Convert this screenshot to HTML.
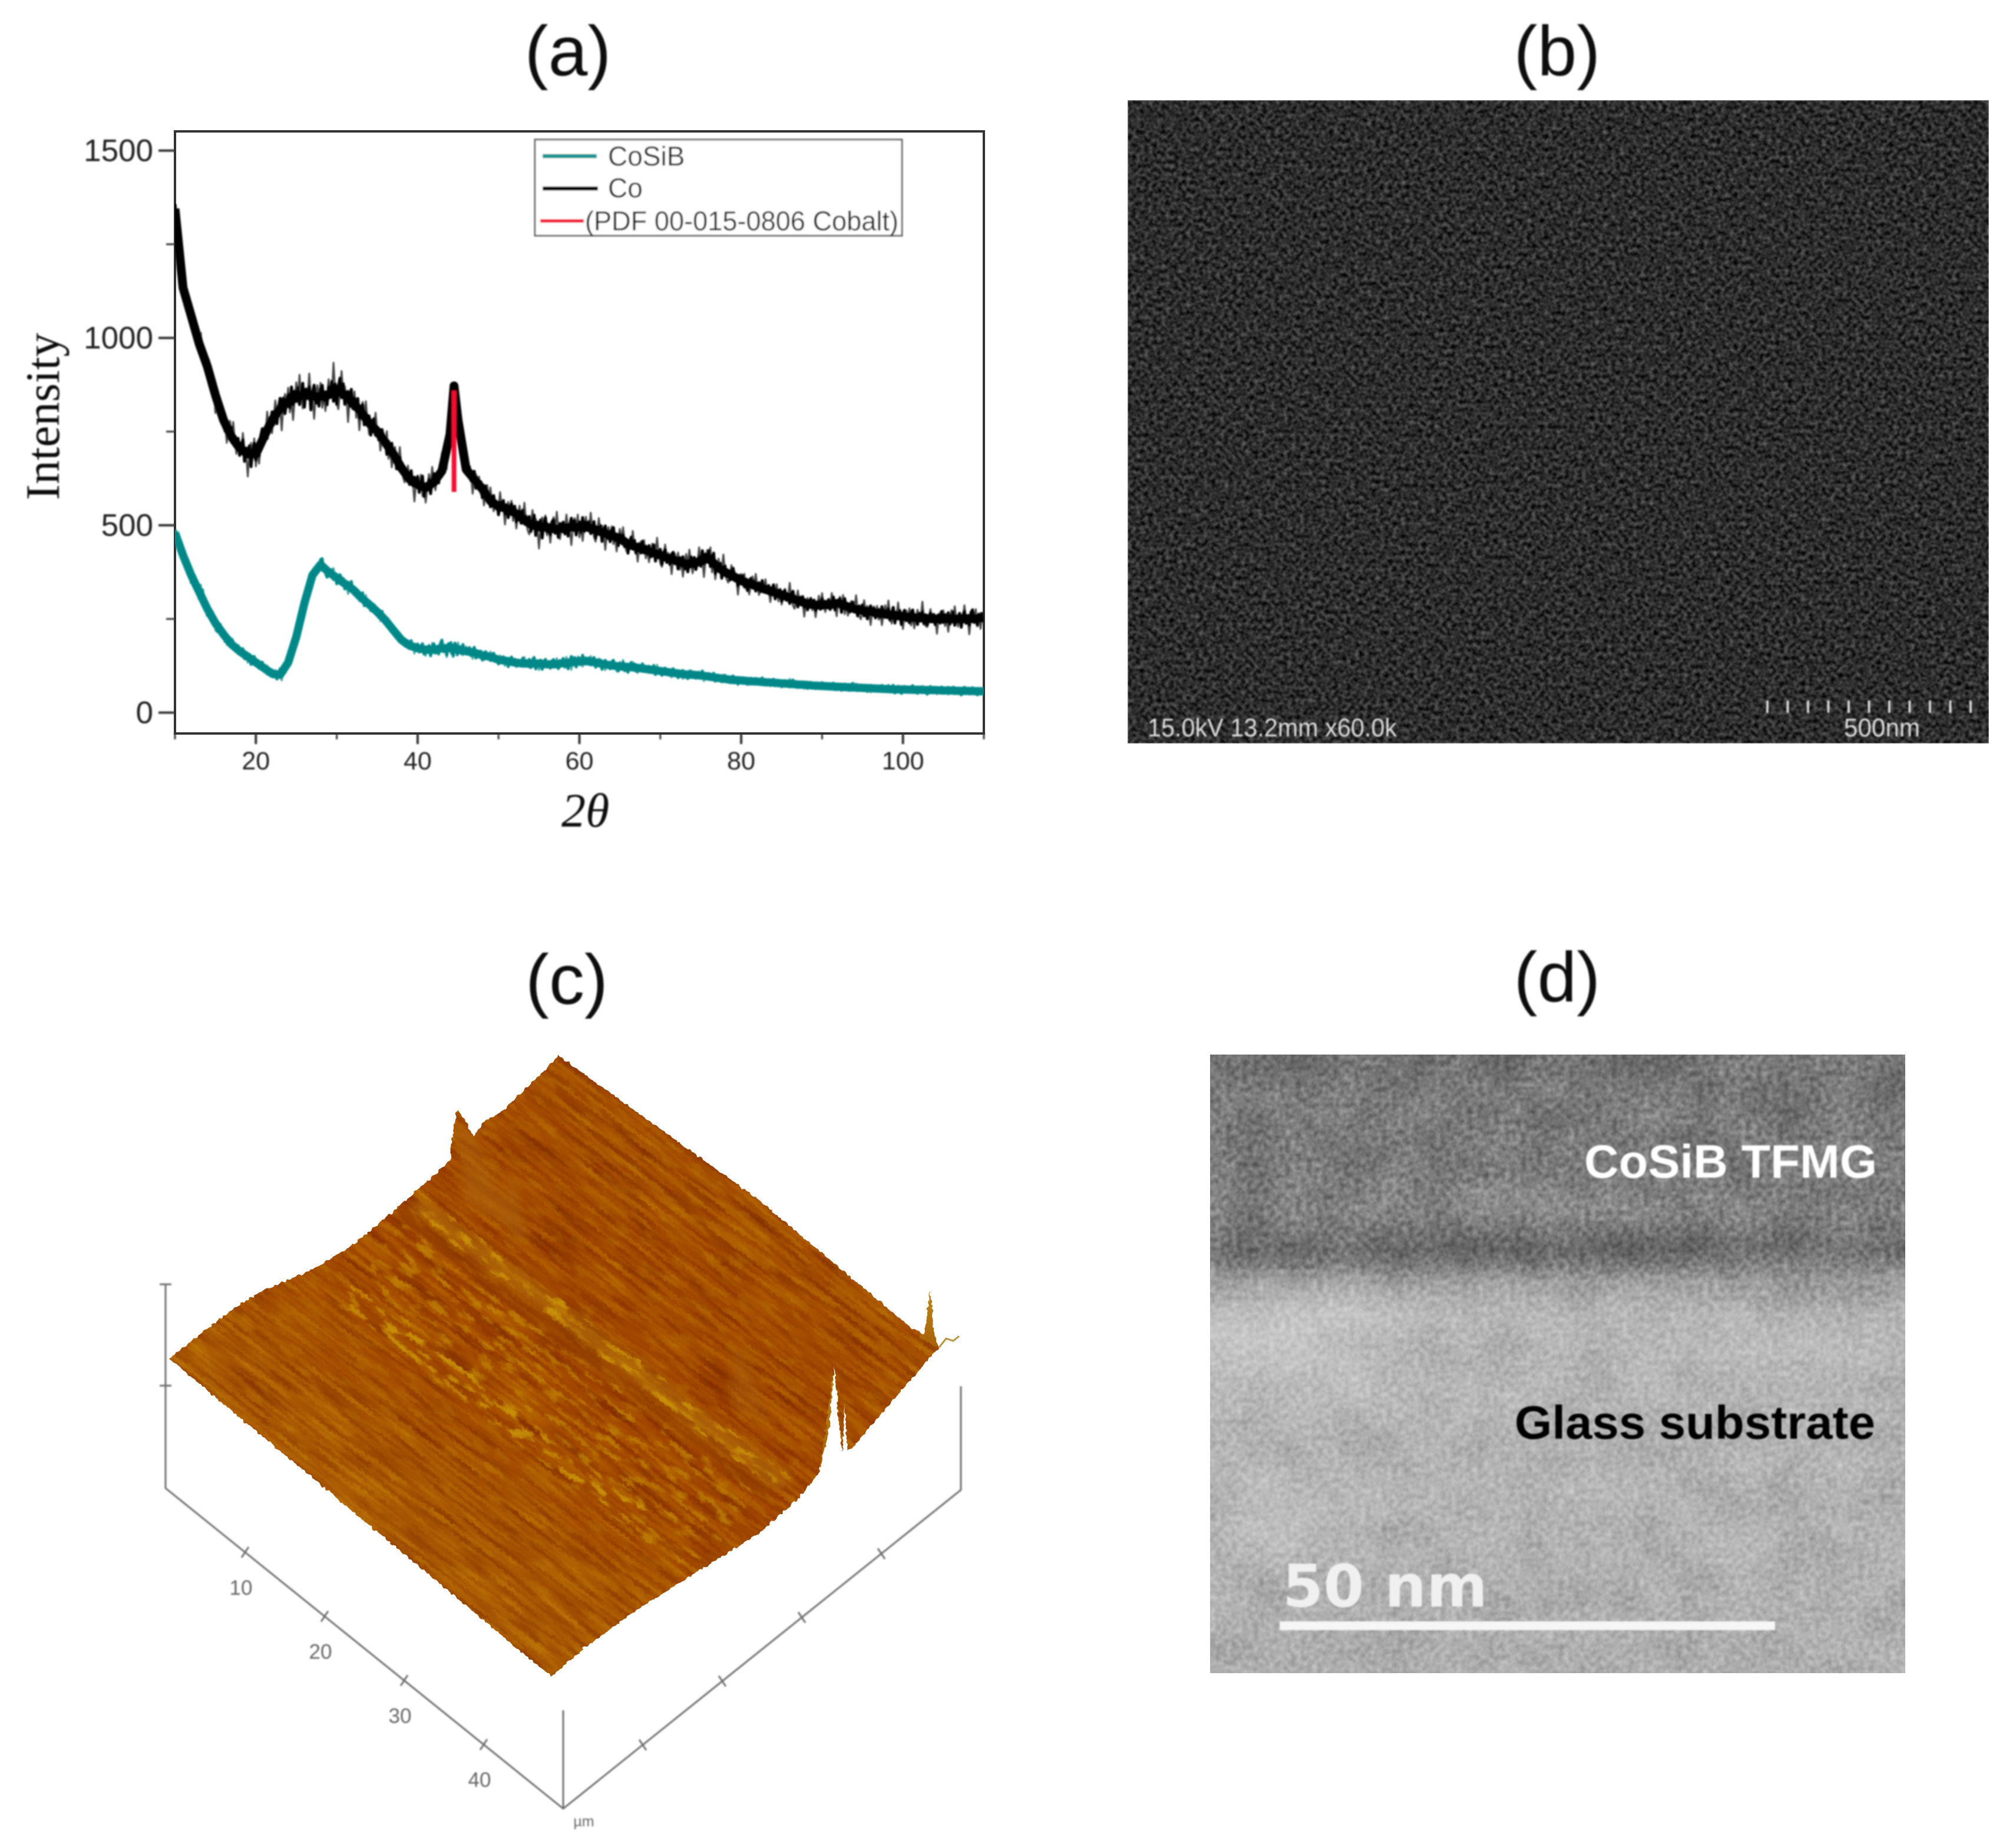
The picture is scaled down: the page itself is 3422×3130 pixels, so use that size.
<!DOCTYPE html>
<html lang="en">
<head>
<meta charset="utf-8">
<title>CoSiB thin film characterisation</title>
<style>
html,body{margin:0;padding:0;background:#fff;width:3422px;height:3130px;overflow:hidden}
svg{display:block}
text{font-family:"Liberation Sans",sans-serif}
</style>
</head>
<body>
<svg id="figure" xmlns="http://www.w3.org/2000/svg" width="3422" height="3130" viewBox="0 0 3422 3130">
<defs>
<filter id="soft" x="-5%" y="-5%" width="110%" height="110%"><feGaussianBlur stdDeviation="1.2"/></filter>
<filter id="softer" x="-30%" y="-30%" width="160%" height="160%"><feGaussianBlur stdDeviation="9"/></filter>
<filter id="veryBlur" x="-50%" y="-50%" width="200%" height="200%"><feGaussianBlur stdDeviation="45"/></filter>
<filter id="semNoise" x="0" y="0" width="100%" height="100%" color-interpolation-filters="sRGB">
<feTurbulence type="fractalNoise" baseFrequency="0.14" numOctaves="2" seed="7"/>
<feColorMatrix type="matrix" values="0.58 0 0 0 -0.115  0.58 0 0 0 -0.115  0.58 0 0 0 -0.115  0 0 0 0 1"/>
<feGaussianBlur stdDeviation="1.1"/>
</filter>
<filter id="temBlobs" x="0" y="0" width="100%" height="100%" color-interpolation-filters="sRGB">
<feTurbulence type="fractalNoise" baseFrequency="0.012" numOctaves="3" seed="11"/>
<feColorMatrix type="matrix" values="1.2 0 0 0 -0.1  1.2 0 0 0 -0.1  1.2 0 0 0 -0.1  0 0 0 0 1"/>
</filter>
<filter id="temGrain" x="0" y="0" width="100%" height="100%" color-interpolation-filters="sRGB">
<feTurbulence type="fractalNoise" baseFrequency="0.11" numOctaves="2" seed="4"/>
<feColorMatrix type="matrix" values="1 0 0 0 0  1 0 0 0 0  1 0 0 0 0  0 0 0 0 1"/>
<feGaussianBlur stdDeviation="1.2"/>
</filter>
<filter id="afmStreaks" x="0" y="0" width="100%" height="100%" color-interpolation-filters="sRGB">
<feTurbulence type="fractalNoise" baseFrequency="0.008 0.11" numOctaves="2" seed="9"/>
<feColorMatrix type="matrix" values="1.4 0 0 0 -0.2  1.4 0 0 0 -0.2  1.4 0 0 0 -0.2  0 0 0 0 1"/>
<feGaussianBlur stdDeviation="1"/>
</filter>
<filter id="afmDots" x="0" y="0" width="100%" height="100%" color-interpolation-filters="sRGB">
<feTurbulence type="fractalNoise" baseFrequency="0.025 0.1" numOctaves="2" seed="21"/>
<feColorMatrix type="matrix" values="0 0 0 0 0.78  0 0 0 0 0.56  0 0 0 0 0.03  6 0 0 0 -3.2"/>
<feGaussianBlur stdDeviation="1.6"/>
</filter>
<filter id="afmEdge" x="-3%" y="-3%" width="106%" height="106%" color-interpolation-filters="sRGB">
<feTurbulence type="fractalNoise" baseFrequency="0.16" numOctaves="1" seed="3" result="warp"/>
<feDisplacementMap in="SourceGraphic" in2="warp" scale="8" xChannelSelector="R" yChannelSelector="G"/>
</filter>
<linearGradient id="afmBase" x1="0" y1="0" x2="0" y2="1">
<stop offset="0" stop-color="#a44e02"/><stop offset="0.3" stop-color="#a04700"/>
<stop offset="0.45" stop-color="#9f4400"/><stop offset="0.62" stop-color="#a24a00"/>
<stop offset="1" stop-color="#aa5a04"/>
</linearGradient>
<linearGradient id="temBase" x1="0" y1="1790" x2="0" y2="2840" gradientUnits="userSpaceOnUse">
<stop offset="0" stop-color="#747474"/><stop offset="0.2" stop-color="#7d7d7d"/>
<stop offset="0.25" stop-color="#858585"/><stop offset="0.285" stop-color="#767676"/>
<stop offset="0.315" stop-color="#6a6a6a"/><stop offset="0.34" stop-color="#7c7c7c"/>
<stop offset="0.365" stop-color="#9c9c9c"/><stop offset="0.42" stop-color="#b6b6b6"/>
<stop offset="1" stop-color="#aeaeae"/>
</linearGradient>
<linearGradient id="spikeGold" x1="0" y1="0" x2="0" y2="1">
<stop offset="0" stop-color="#bb8a1e"/><stop offset="1" stop-color="#a85f06"/>
</linearGradient>
<clipPath id="plotClip"><rect x="297" y="223" width="1373" height="1022"/></clipPath>
<clipPath id="afmClip"><polygon points="287,2306 330,2272 372,2240 405,2215 447,2190 490,2172 540,2150 595,2115 640,2080 694,2032 740,1992 763,1970 768,1930 775,1885 790,1900 803,1930 820,1905 852,1886 880,1860 912,1829 948,1792 1287,2036 1549,2256 1569,2265 1579,2190 1586,2265 1594,2287 1445,2459 1438,2462 1434,2384 1430,2465 1424,2420 1416,2318 1408,2420 1391,2498 1357,2542 1287,2604 1188,2665 1090,2727 991,2798 936,2846"/></clipPath>
<clipPath id="temClip"><rect x="2054" y="1790" width="1180" height="1050"/></clipPath>
<clipPath id="semClip"><rect x="1914" y="170" width="1462" height="1092"/></clipPath>
</defs>

<!-- Panel titles -->
<g filter="url(#soft)" fill="#111" font-size="120" text-anchor="middle">
<text x="964" y="128">(a)</text>
<text x="2643" y="128">(b)</text>
<text x="962" y="1704">(c)</text>
<text x="2643" y="1700">(d)</text>
</g>

<!-- Panel a: XRD chart -->
<g id="xrd-chart"></g>

<!-- Panel b: SEM -->
<g clip-path="url(#semClip)">
<rect x="1914" y="170" width="1462" height="1092" fill="#333" filter="url(#semNoise)"/>
</g>
<g id="sem-overlay" filter="url(#soft)">
<text x="1948" y="1250" font-size="44" fill="#ddd" textLength="423" lengthAdjust="spacingAndGlyphs">15.0kV 13.2mm x60.0k</text>
<text x="3130" y="1250" font-size="44" fill="#ddd" textLength="129" lengthAdjust="spacingAndGlyphs">500nm</text>
</g>

<!-- Panel c: AFM -->
<g filter="url(#afmEdge)">
<g clip-path="url(#afmClip)" style="isolation:isolate">
<rect x="250" y="1780" width="1400" height="1080" fill="#a24a00"/>
<g transform="translate(948,1792) rotate(37.5)">
<rect x="-400" y="-60" width="1400" height="960" fill="url(#afmBase)"/>
<rect x="-400" y="-60" width="1400" height="960" filter="url(#afmStreaks)" style="mix-blend-mode:soft-light" opacity="0.5"/>
<rect x="-40" y="330" width="790" height="30" fill="#b87c10" opacity="0.55" filter="url(#softer)"/>
<rect x="-60" y="366" width="800" height="20" fill="#8f3c00" opacity="0.6" filter="url(#softer)"/>
<rect x="-60" y="326" width="810" height="36" filter="url(#afmDots)"/>
<rect x="-40" y="385" width="760" height="180" filter="url(#afmDots)" opacity="0.55"/>
<rect x="-40" y="520" width="640" height="40" filter="url(#afmDots)"/>
<rect x="-300" y="0" width="1200" height="880" filter="url(#afmDots)" opacity="0.25"/>
</g>
<polygon points="775,1885 803,1930 880,2090 790,2040" fill="#ae620a" opacity="0.6" filter="url(#softer)"/>
<polygon points="870,1970 885,2060 900,2120 850,2070" fill="#ae620a" opacity="0.6" filter="url(#softer)"/>
<polygon points="1250,2270 1310,2420 1240,2380" fill="#ae620a" opacity="0.5" filter="url(#softer)"/>
<polygon points="1416,2318 1430,2465 1391,2498" fill="url(#spikeGold)"/>
<polygon points="1579,2190 1592,2287 1560,2270" fill="url(#spikeGold)"/>
</g>
</g>
<polyline points="1594,2287 1606,2272 1618,2276 1628,2268" fill="none" stroke="#b9923f" stroke-width="3"/>
<g id="afm-axes" filter="url(#soft)" stroke="#6f6f6f" stroke-width="3" fill="none"></g>

<!-- Panel d: TEM -->
<g clip-path="url(#temClip)" style="isolation:isolate">
<rect x="2054" y="1790" width="1180" height="1050" fill="url(#temBase)"/>
<ellipse cx="2180" cy="2270" rx="200" ry="70" fill="#fff" opacity="0.22" filter="url(#veryBlur)"/>
<ellipse cx="2170" cy="2560" rx="120" ry="70" fill="#fff" opacity="0.16" filter="url(#veryBlur)"/>
<rect x="2054" y="1790" width="1180" height="1050" filter="url(#temBlobs)" style="mix-blend-mode:soft-light" opacity="0.28"/>
<rect x="2054" y="1790" width="1180" height="1050" filter="url(#temGrain)" style="mix-blend-mode:overlay" opacity="0.42"/>
</g>
<g filter="url(#soft)">
<text x="2689" y="1999" font-size="80" font-weight="700" fill="#fff" textLength="497" lengthAdjust="spacingAndGlyphs">CoSiB TFMG</text>
<text x="2571" y="2442" font-size="80" font-weight="700" fill="#050505" textLength="612" lengthAdjust="spacingAndGlyphs">Glass substrate</text>
<text x="2177" y="2727" font-size="100" font-weight="700" fill="#f0f0f0" style="font-family:'DejaVu Sans',sans-serif" textLength="348" lengthAdjust="spacingAndGlyphs">50 nm</text>
<rect x="2172" y="2752" width="841" height="15" fill="#f6f6f6"/>
</g>
</svg>

<script>
const twoTheta = [
10,11,12,13,14,15,16,17,18,19,
20,21,22,23,24,25,26,27,28,29,
30,31,32,33,34,35,36,37,38,39,
40,41,42,43,44,44.5,45,46,47,48,49,
50,51,52,53,54,55,56,57,58,59,
60,61,62,63,64,65,66,67,68,69,
70,71,72,73,74,75,76,77,78,79,
80,81,82,83,84,85,86,87,88,89,
90,91,92,93,94,95,96,97,98,99,
100,101,102,103,104,105,106,107,108,109,110];
const coIntensity = [
1345,1134,1059,984,924,848,781,736,706,690,
690,736,781,811,830,841,848,844,844,848,
863,848,826,803,773,751,721,690,653,623,
608,600,615,645,743,872,780,649,623,597,565,
550,545,533,517,502,495,495,490,491,495,
495,495,487,480,472,465,450,442,435,427,
420,412,405,397,397,405,412,390,375,364,
352,344,337,329,322,314,307,299,292,287,
287,288,292,284,277,272,269,265,262,259,
257,254,253,251,250,250,250,250,251,251,253];
const coSibIntensity = [
480,420,367,322,277,239,209,182,164,149,
134,119,104,101,134,202,292,367,395,375,
360,344,329,307,289,269,247,220,194,179,
172,168,168,172,172,170,168,164,160,153,149,
141,138,134,131,131,131,129,129,132,134,
137,137,134,129,126,123,122,120,117,114,
111,108,105,102,101,99,96,93,90,87,
86,84,83,81,80,78,77,75,74,72,
71,70,69,68,67,66,65,64,63,62,
62,61,61,60,60,59,59,58,58,57,57];
const coNoise = [
40,45,40,38,42,44,48,46,52,60,
55,45,50,56,62,58,66,60,52,70,
72,58,60,46,50,40,52,44,38,46,
50,44,46,54,50,30,44,40,38,42,36,
44,40,48,42,50,52,44,46,40,48,
46,38,44,40,42,36,44,38,36,40,
42,36,40,38,42,46,48,40,34,38,
36,32,36,30,34,32,36,34,30,36,
32,34,38,30,34,36,32,34,38,40,
34,36,40,32,36,38,34,40,42,36,34];
const coSibNoise = [
18,20,22,26,22,18,20,16,14,16,
14,12,14,20,16,14,14,16,22,18,
18,20,16,18,14,16,14,12,14,16,
16,18,20,24,22,20,18,16,16,14,14,
14,16,14,16,18,16,14,16,18,20,
18,14,16,14,16,18,16,14,12,14,
12,12,14,12,12,14,12,10,12,12,
10,10,12,10,10,10,12,10,10,10,
10,10,10,12,10,10,10,10,12,12,
10,12,10,12,10,12,10,12,10,12,12];
const pdfPeakTheta = 44.5;
const pdfPeakLow = 589;
const pdfPeakHigh = 859;
const xMajorTicks = [20,40,60,80,100];
const xMinorTicks = [10,30,50,70,90,110];
const yMajorTicks = [0,500,1000,1500];
const yMinorTicks = [250,750,1250];
const semScaleTicks = [0,1,2,3,4,5,6,7,8,9,10];
const afmXTicks = [10,20,30,40];
const afmYTicks = [10,20,30,40];
const bandShape = [.5,-.3,.7,-.6,.2,.9,-.8,.4,-.2,.6,-.9,.3,.8,-.5,.1,-.7,.6,.9,-.4,.3,-.8,.5,-.1,.7,-.6,.4,-.9,.2,.8,-.3,.6,-.7,.1,.5,-.5,.9,-.4];
const hairShape = [0,.9,0,0,-1,0,.5,0,.7,-.6,0,-.8,0,.6,0,0,1.1,0,-.5,-.7,0,.8,0,.4,0,-1.1,0,.5,0,.6,-.5,0,-.9,0,.7,0,1,0,-.6,0,0];

const NS = 'http://www.w3.org/2000/svg';
const plotLeft = 297, plotRight = 1670, plotTop = 223, plotBottom = 1245;
const subSteps = 5;
function xScale(v){ return plotLeft + (v - 10) * (plotRight - plotLeft) / 100; }
function yScale(v){ return 1209.6 - v * 0.636; }
function make(tag, attrs, parent){
  const el = document.createElementNS(NS, tag);
  for (const k in attrs) el.setAttribute(k, attrs[k]);
  parent.appendChild(el);
  return el;
}
function linePath(values){
  return values.map((v,i)=>(i?'L':'M')+xScale(twoTheta[i]).toFixed(1)+' '+yScale(v).toFixed(1)).join(' ');
}
function noisePath(values, noise, shape, gain){
  let d = '';
  let k = 0;
  for (let i = 0; i < values.length - 1; i++) {
    for (let j = 0; j < subSteps; j++) {
      const t = j / subSteps;
      const theta = twoTheta[i] + (twoTheta[i+1] - twoTheta[i]) * t;
      const base = values[i] + (values[i+1] - values[i]) * t;
      const offset = noise[i] * shape[k % shape.length] * gain;
      k++;
      d += (d ? 'L' : 'M') + xScale(theta).toFixed(1) + ' ' + yScale(base + offset).toFixed(1) + ' ';
    }
  }
  return d;
}

const chart = document.getElementById('xrd-chart');

const frame = make('rect', {x:plotLeft, y:plotTop, width:plotRight-plotLeft, height:plotBottom-plotTop, fill:'#fff', stroke:'#333', 'stroke-width':4}, chart);



const seriesGroup = make('g', {'clip-path':'url(#plotClip)'}, chart);


const seriesInner = make('g', {filter:'url(#soft)', fill:'none', 'stroke-linejoin':'round'}, seriesGroup);



const coHairs = make('path', {d:noisePath(coIntensity, coNoise, hairShape, 1), stroke:'#444', 'stroke-width':3}, seriesInner);


const coBand = make('path', {d:noisePath(coIntensity, coNoise, bandShape, 0.62), stroke:'#000', 'stroke-width':5}, seriesInner);


const coLine = make('path', {d:linePath(coIntensity), stroke:'#000', 'stroke-width':15}, seriesInner);


const cosibHairs = make('path', {d:noisePath(coSibIntensity, coSibNoise, hairShape, 1), stroke:'#3fa5a3', 'stroke-width':3}, seriesInner);


const cosibBand = make('path', {d:noisePath(coSibIntensity, coSibNoise, bandShape, 1), stroke:'#058888', 'stroke-width':5}, seriesInner);


const cosibLine = make('path', {d:linePath(coSibIntensity), stroke:'#058888', 'stroke-width':14}, seriesInner);


const pdfLine = make('line', {x1:xScale(pdfPeakTheta), x2:xScale(pdfPeakTheta), y1:yScale(pdfPeakLow), y2:yScale(pdfPeakHigh), stroke:'#f21030', 'stroke-width':8}, seriesInner);



const axisGroup = make('g', {filter:'url(#soft)'}, chart);



xMajorTicks.forEach(v => {
  const tick = make('line', {x1:xScale(v), x2:xScale(v), y1:plotBottom, y2:plotBottom+18, stroke:'#333', 'stroke-width':4}, axisGroup);
  
  
  const label = make('text', {x:xScale(v), y:1306, 'font-size':43, fill:'#222', 'text-anchor':'middle'}, axisGroup);
  
  
  label.textContent = v;
});
xMinorTicks.forEach(v => {
  const tick = make('line', {x1:xScale(v), x2:xScale(v), y1:plotBottom, y2:plotBottom+10, stroke:'#333', 'stroke-width':3}, axisGroup);
  
  
});
yMajorTicks.forEach(v => {
  const tick = make('line', {x1:plotLeft-28, x2:plotLeft, y1:yScale(v), y2:yScale(v), stroke:'#333', 'stroke-width':4}, axisGroup);
  
  
  const label = make('text', {x:260, y:yScale(v)+18, 'font-size':53, fill:'#222', 'text-anchor':'end'}, axisGroup);
  
  
  label.textContent = v;
});
yMinorTicks.forEach(v => {
  const tick = make('line', {x1:plotLeft-15, x2:plotLeft, y1:yScale(v), y2:yScale(v), stroke:'#333', 'stroke-width':3}, axisGroup);
  
  
});

const yTitle = make('text', {x:0, y:0, transform:'translate(100,849) rotate(-90)', 'font-size':82, fill:'#111', textLength:284, lengthAdjust:'spacingAndGlyphs', style:'font-family:"Liberation Serif",serif'}, axisGroup);


yTitle.textContent = 'Intensity';
const xTitle = make('text', {x:953, y:1403, 'font-size':82, fill:'#111', style:'font-family:"Liberation Serif",serif;font-style:italic'}, axisGroup);


xTitle.textContent = '2θ';

const legend = make('g', {filter:'url(#soft)'}, chart);


const legendBox = make('rect', {x:908, y:237, width:623, height:163, fill:'#fff', stroke:'#666', 'stroke-width':3}, legend);


const legendCosibLine = make('line', {x1:921, x2:1013, y1:265, y2:265, stroke:'#0a9490', 'stroke-width':7}, legend);


const legendCosibText = make('text', {x:1032, y:281, 'font-size':46, fill:'#111'}, legend);


legendCosibText.textContent = 'CoSiB';
const legendCoLine = make('line', {x1:921, x2:1015, y1:320, y2:320, stroke:'#000', 'stroke-width':7}, legend);


const legendCoText = make('text', {x:1032, y:335, 'font-size':46, fill:'#111'}, legend);


legendCoText.textContent = 'Co';
const legendPdfLine = make('line', {x1:917, x2:991, y1:375, y2:375, stroke:'#f21030', 'stroke-width':6}, legend);


const legendPdfText = make('text', {x:993, y:391, 'font-size':46, fill:'#111', textLength:532, lengthAdjust:'spacingAndGlyphs'}, legend);


legendPdfText.textContent = '(PDF 00-015-0806 Cobalt)';

/* SEM scale bar ticks */
const semOverlay = document.getElementById('sem-overlay');
semScaleTicks.forEach(i => {
  const x = 3000 + i * 34.5;
  const t = make('line', {x1:x, x2:x, y1:1189, y2:1210, stroke:'#d8d8d8', 'stroke-width':4}, semOverlay);
  
  
});

/* AFM axes */
const afmAxes = document.getElementById('afm-axes');
const afmOrigin = [281,2526], afmFront = [956,3070], afmRight = [1631,2529];
function afmLeftPoint(v){ const f = v/50; return [afmOrigin[0]+(afmFront[0]-afmOrigin[0])*f, afmOrigin[1]+(afmFront[1]-afmOrigin[1])*f]; }
function afmRightPoint(v){ const f = v/50; return [afmFront[0]+(afmRight[0]-afmFront[0])*f, afmFront[1]+(afmRight[1]-afmFront[1])*f]; }
const afmAxisPath = make('polyline', {points:'281,2180 281,2526 956,3070 1631,2529 1631,2353'}, afmAxes);


const afmZAxis = make('line', {x1:956, y1:2903, x2:956, y2:3070}, afmAxes);


const afmZTickTop = make('line', {x1:271, y1:2180, x2:291, y2:2180}, afmAxes);


const afmZTickMid = make('line', {x1:271, y1:2352, x2:291, y2:2352}, afmAxes);


afmXTicks.forEach(v => {
  const p = afmLeftPoint(v);
  const t = make('line', {x1:p[0]-6, y1:p[1]+9, x2:p[0]+6, y2:p[1]-9}, afmAxes);
  
  
  const label = make('text', {x:p[0]-7, y:p[1]+72, 'font-size':35, fill:'#666', stroke:'none', 'text-anchor':'middle'}, afmAxes);
  
  
  label.textContent = v;
});
afmYTicks.forEach(v => {
  const p = afmRightPoint(v);
  const t = make('line', {x1:p[0]-6, y1:p[1]-9, x2:p[0]+6, y2:p[1]+9}, afmAxes);
  
  
});
const afmUnit = make('text', {x:991, y:3100, 'font-size':25, fill:'#666', stroke:'none', 'text-anchor':'middle'}, afmAxes);


afmUnit.textContent = 'µm';
</script>
</body>
</html>
